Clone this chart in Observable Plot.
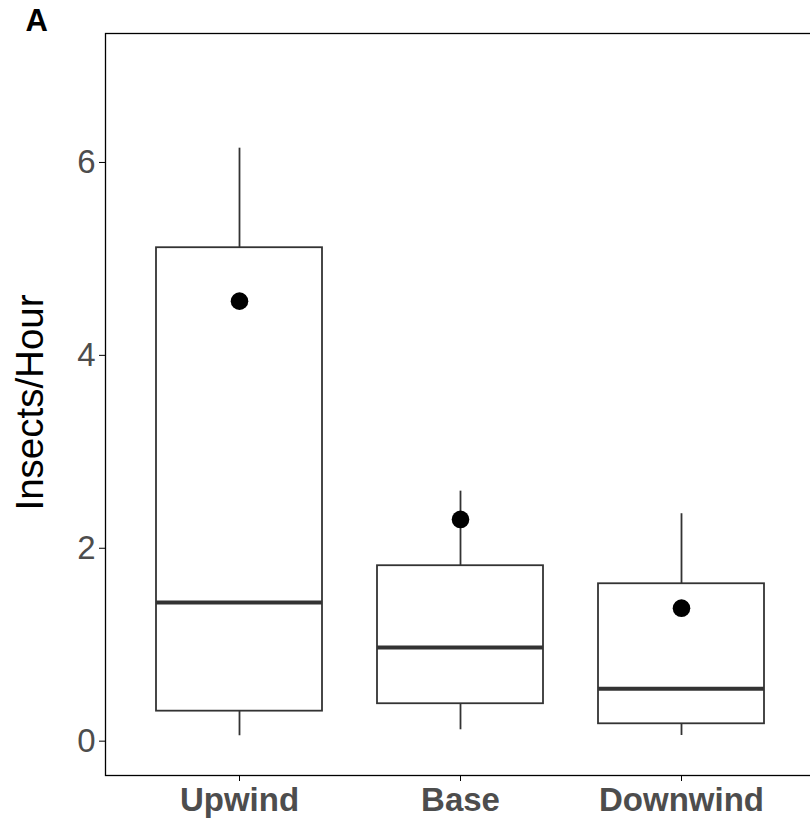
<!DOCTYPE html>
<html>
<head>
<meta charset="utf-8">
<script src="https://cdn.jsdelivr.net/npm/d3@7"></script>
<script src="https://cdn.jsdelivr.net/npm/@observablehq/plot@0.6"></script>
<style>
  html, body { margin: 0; padding: 0; background: #fff; overflow: hidden; }
  #chart svg { overflow: hidden; }
  #chart g[aria-label^="y-axis"] text { font-size: 33px; fill: #4D4D4D; }
  #chart g[aria-label^="x-axis"] text { font-size: 33px; font-weight: bold; fill: #4D4D4D; }
  #chart g[aria-label$="axis"] line { stroke: #333333; stroke-width: 1.5px; }
  #chart g[aria-label$="axis"] path.domain { stroke: #000; stroke-width: 2px; }
</style>
</head>
<body>
<div id="chart"></div>
<script>
// Data
const groups = ["Upwind", "Base", "Downwind"];
const whiskerLow = [0.056, 0.118, 0.059];
const q1 = [0.311, 0.388, 0.180];
const median = [1.438, 0.971, 0.543];
const q3 = [5.116, 1.819, 1.632];
const whiskerHigh = [6.148, 2.592, 2.358];
const mean = [4.562, 2.299, 1.379];
const yTicks = [0, 2, 4, 6];
const yTitle = "Insects/Hour";
const panelTag = "A";

const rows = groups.map((g, i) => ({
  group: g, lo: whiskerLow[i], q1: q1[i], med: median[i], q3: q3[i], hi: whiskerHigh[i], mean: mean[i]
}));

const boxStroke = "#333333";
const font = "'Liberation Sans', Arial, Helvetica, sans-serif";

const chart = Plot.plot({
  width: 810,
  height: 824,
  marginLeft: 105,
  marginTop: 33,
  marginBottom: 49,
  marginRight: -5,
  style: { fontFamily: font, background: "#fff", overflow: "hidden" },
  x: { type: "band", domain: groups, range: [105, 815], paddingInner: 0.25, paddingOuter: 0.225,
       tickSize: 6, tickPadding: 6, line: true, label: null },
  y: { domain: [-0.356, 7.337], range: [775, 33], ticks: yTicks, tickSize: 6, tickPadding: 4, line: true, label: null },
  marks: [
    Plot.frame({ stroke: "black", strokeWidth: 1.3 }),
    // whiskers
    Plot.ruleX(rows, { x: "group", y1: "q3", y2: "hi", stroke: boxStroke, strokeWidth: 1.8 }),
    Plot.ruleX(rows, { x: "group", y1: "lo", y2: "q1", stroke: boxStroke, strokeWidth: 1.8 }),
    // boxes
    Plot.barY(rows, { x: "group", y1: "q1", y2: "q3", fill: "white", stroke: boxStroke, strokeWidth: 1.8 }),
    // medians
    Plot.tickY(rows, { x: "group", y: "med", stroke: boxStroke, strokeWidth: 4 }),
    // means
    Plot.dot(rows, { x: "group", y: "mean", r: 8.8, fill: "black", stroke: null }),
    // y title
    Plot.text([yTitle], { frameAnchor: "left", rotate: -90, dx: -75, dy: -2, fontSize: 38.5, fill: "black", textAnchor: "middle", lineAnchor: "middle" }),
    // panel tag
    Plot.text([panelTag], { frameAnchor: "top-left", dx: -80, dy: -3, fontSize: 31, fontWeight: "bold", fill: "black", textAnchor: "start", lineAnchor: "bottom" })
  ]
});

document.getElementById("chart").appendChild(chart);
</script>
</body>
</html>
